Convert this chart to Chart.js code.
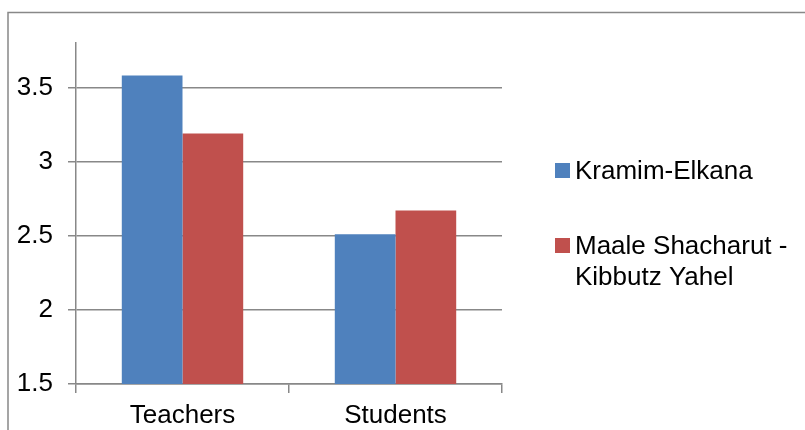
<!DOCTYPE html>
<html>
<head>
<meta charset="utf-8">
<script src="https://cdn.jsdelivr.net/npm/chart.js@4/dist/chart.umd.min.js"></script>
<style>
  html, body { margin: 0; padding: 0; background: #ffffff; }
  #wrap { width: 805px; height: 430px; }
</style>
</head>
<body>
<div id="wrap"><canvas id="c" width="805" height="430"></canvas></div>
<script>
const categories = ["Teachers", "Students"];
const seriesNames = ["Kramim-Elkana", ["Maale Shacharut -", "Kibbutz Yahel"]];
const kramimElkana = [3.58, 2.51];
const maaleShacharut = [3.19, 2.67];
const yTickValues = [1.5, 2, 2.5, 3, 3.5];
const yMin = 1.5, yMax = 3.8;

const colors = ["#4F81BD", "#C0504D"];
const gridColor = "#888888";
const FONT = "'Liberation Sans', Arial, sans-serif";

const framePlugin = {
  id: 'frame',
  beforeDraw(chart) {
    const ctx = chart.ctx;
    ctx.save();
    ctx.fillStyle = '#ffffff';
    ctx.fillRect(0, 0, chart.width, chart.height);
    ctx.strokeStyle = gridColor;
    ctx.lineWidth = 1.5;
    ctx.beginPath();
    ctx.moveTo(8, chart.height);
    ctx.lineTo(8, 12.5);
    ctx.lineTo(chart.width, 12.5);
    ctx.stroke();
    ctx.restore();
  }
};

const legendPlugin = {
  id: 'sideLegend',
  afterDraw(chart) {
    const ctx = chart.ctx;
    ctx.save();
    ctx.font = "26px " + FONT;
    ctx.textBaseline = 'middle';
    ctx.textAlign = 'left';
    const rows = [171, 246];
    chart.data.datasets.forEach((ds, i) => {
      const y = rows[i];
      ctx.fillStyle = ds.backgroundColor;
      ctx.fillRect(555, y - 8, 15, 15);
      ctx.fillStyle = '#000000';
      const lines = Array.isArray(ds.label) ? ds.label : [ds.label];
      lines.forEach((t, j) => ctx.fillText(t, 575, y + 1 + j * 31));
    });
    ctx.restore();
  }
};

new Chart(document.getElementById('c'), {
  type: 'bar',
  data: {
    labels: categories,
    datasets: [
      { label: seriesNames[0], data: kramimElkana, backgroundColor: colors[0] },
      { label: seriesNames[1], data: maaleShacharut, backgroundColor: colors[1] }
    ]
  },
  options: {
    responsive: false,
    animation: false,
    devicePixelRatio: 1,
    layout: { padding: { left: 0, top: 43, right: 303, bottom: 0 } },
    datasets: { bar: { categoryPercentage: 0.57, barPercentage: 1.0 } },
    plugins: {
      legend: { display: false },
      tooltip: { enabled: false },
      title: { display: false }
    },
    scales: {
      x: {
        type: 'category',
        offset: true,
        grid: {
          display: true,
          offset: true,
          drawOnChartArea: false,
          drawTicks: true,
          tickLength: 9,
          color: gridColor,
          lineWidth: 1.5
        },
        border: { display: true, color: gridColor, width: 1.5 },
        ticks: {
          color: '#000000',
          font: { family: FONT, size: 26 },
          padding: 7,
          maxRotation: 0
        },
        afterFit(scale) { scale.height = 46; }
      },
      y: {
        min: yMin,
        max: yMax,
        grid: {
          color: gridColor,
          lineWidth: 1.5,
          tickLength: 8,
          drawTicks: true
        },
        border: { display: true, color: gridColor, width: 1.5 },
        ticks: {
          stepSize: 0.5,
          color: '#000000',
          font: { family: FONT, size: 26 },
          padding: 15,
          callback: (v) => String(v)
        },
        afterBuildTicks(scale) {
          scale.ticks = yTickValues.map(v => ({ value: v }));
        },
        afterFit(scale) { scale.width = 76; }
      }
    }
  },
  plugins: [framePlugin, legendPlugin]
});
</script>
</body>
</html>
